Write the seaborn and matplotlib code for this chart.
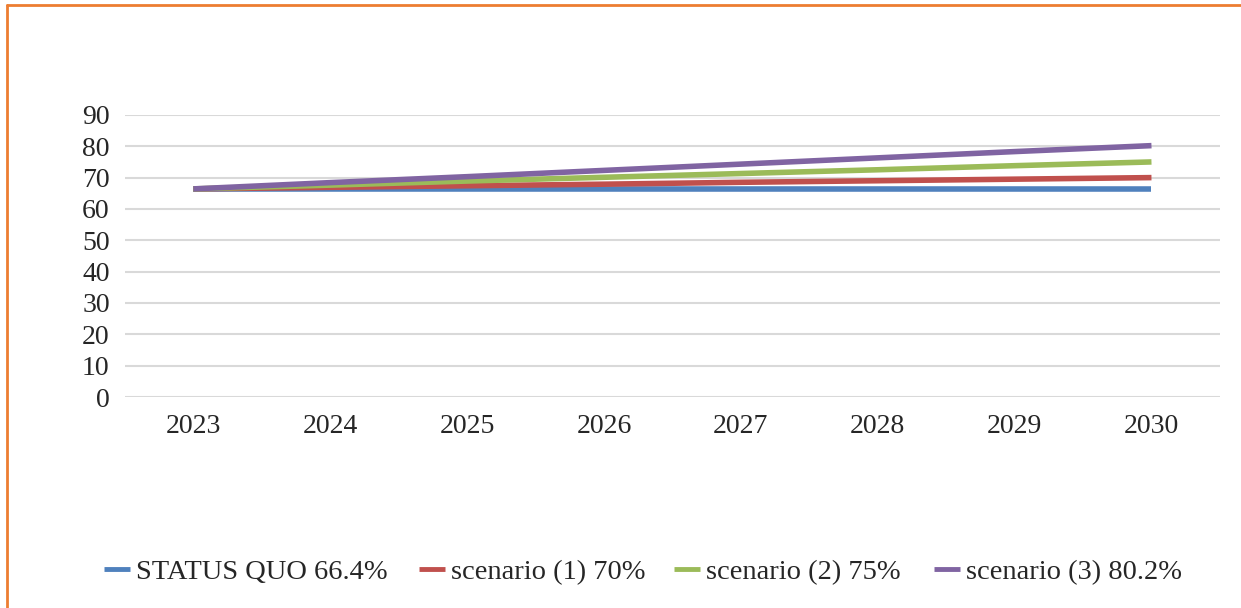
import matplotlib
matplotlib.use("Agg")
import matplotlib.pyplot as plt
import seaborn as sns
import pandas as pd
from matplotlib.lines import Line2D

years = ["2023", "2024", "2025", "2026", "2027", "2028", "2029", "2030"]
status_quo = [66.4, 66.4, 66.4, 66.4, 66.4, 66.4, 66.4, 66.4]
scenario_1 = [66.4, 66.9, 67.4, 67.9, 68.5, 69.0, 69.5, 70.0]
scenario_2 = [66.4, 67.6, 68.9, 70.1, 71.3, 72.5, 73.8, 75.0]
scenario_3 = [66.4, 68.4, 70.3, 72.3, 74.3, 76.3, 78.3, 80.2]
series_names = ["STATUS QUO 66.4%", "scenario (1) 70%", "scenario (2) 75%", "scenario (3) 80.2%"]
colors = ["#4F81BD", "#C0504D", "#9BBB59", "#8064A2"]

rows = []
for name, vals in zip(series_names, [status_quo, scenario_1, scenario_2, scenario_3]):
    for i, (y, v) in enumerate(zip(years, vals)):
        rows.append({"year": y, "x": i, "value": v, "series": name})
df = pd.DataFrame(rows)

sns.set_theme(style="white")
plt.rcParams["font.family"] = ["Liberation Serif", "DejaVu Serif"]

fig = plt.figure(figsize=(12.41, 6.08), dpi=100)
ax = fig.add_axes([0.1007, 0.347, 0.8823, 0.464])

sns.lineplot(data=df, x="x", y="value", hue="series", hue_order=series_names,
             palette=colors, linewidth=4, ax=ax, legend=False, sort=False)
for ln in ax.lines:
    ln.set_solid_capstyle("butt")

ax.set_xlim(-0.5, 7.5)
ax.set_ylim(0, 90)
ax.set_yticks(range(0, 91, 10))
ax.set_xticks(range(len(years)))
ax.set_xticklabels(years)
ax.tick_params(axis="both", labelsize=20, colors="#262626", length=0)
ax.tick_params(axis="y", pad=11)
ax.tick_params(axis="x", pad=12)
ax.set_xlabel("")
ax.set_ylabel("")
ax.grid(axis="y", color="#D9D9D9", linewidth=1.5)
ax.set_axisbelow(True)
for s in ax.spines.values():
    s.set_visible(False)

# legend entries placed like the original (one legend per entry)
legend_x = [104, 419, 674, 934]
for name, c, lx in zip(series_names, colors, legend_x):
    h = Line2D([0], [0], color=c, linewidth=3.5, solid_capstyle="butt")
    fig.legend([h], [name], loc="center left", bbox_to_anchor=(lx / 1241, 1 - 572 / 608),
               frameon=False, fontsize=20.5, handlelength=0.9, handletextpad=0.22,
               borderpad=0, borderaxespad=0, labelcolor="#262626")

# orange frame (top and left edges)
fig.add_artist(Line2D([7/1241, 1], [1 - 4.5/608, 1 - 4.5/608], color="#ED7D31", linewidth=2,
                      transform=fig.transFigure))
fig.add_artist(Line2D([7/1241, 7/1241], [0, 1 - 4.5/608], color="#ED7D31", linewidth=2,
                      transform=fig.transFigure))

fig.savefig("out.png", dpi=100, facecolor="white")
